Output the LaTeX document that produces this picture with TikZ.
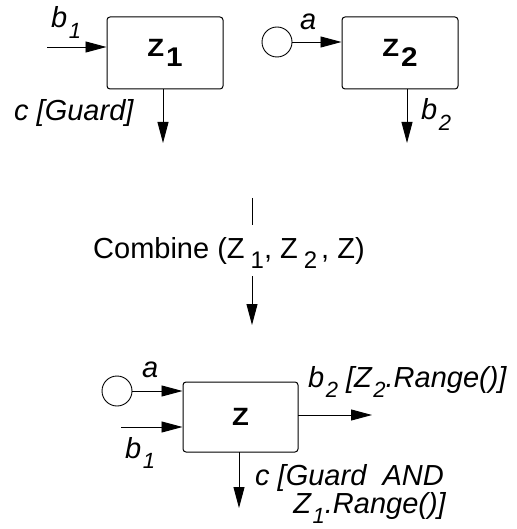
\documentclass[tikz,border=0pt]{standalone}
\usepackage{fontspec}
\setmainfont{Liberation Sans}
\newfontfamily\boxfont{Liberation Sans}[FakeStretch=1.1]
\usetikzlibrary{arrows.meta}
\newcommand{\lsub}[1]{\kern1.5pt\raisebox{-0.35em}{\fontsize{22}{22}\selectfont #1}}
\newcommand{\csub}[1]{\kern6pt\raisebox{-0.36em}{\fontsize{24}{24}\selectfont #1}}
\newcommand{\bsub}[1]{\kern2pt\raisebox{-0.4em}{\fontsize{27}{27}\selectfont #1}}
\begin{document}
\begin{tikzpicture}[x=1pt,y=-1pt,
  box/.style={draw, line width=1pt, rounded corners=3pt, minimum width=116pt, minimum height=72pt, inner sep=0pt, font=\boxfont\fontsize{25}{28}\selectfont\bfseries},
  arr/.style={line width=0.9pt, -{Triangle[length=21pt,width=11pt]}},
  lbl/.style={inner sep=0pt, font=\fontsize{29}{32}\selectfont\itshape},
  txt/.style={inner sep=0pt, font=\fontsize{29}{32}\selectfont},
  src/.style={draw, circle, minimum size=30pt, inner sep=0pt, line width=0.9pt}]
\useasboundingbox (0,0) rectangle (516,529);

% ---------- top left: Z1 ----------
\node[box] (Z1) at (165,53) {Z\bsub{1}};
\coordinate (b1in) at (47,47);
\draw[arr] (b1in) -- (b1in -| Z1.west);
\node[lbl, anchor=base west] (lb1) at (51,28) {b\lsub{1}};
\coordinate (c1s) at (163,89);
\coordinate (c1e) at (163,143);
\draw[arr] (c1s) -- (c1e);
\node[lbl, anchor=base west] (lc1) at (14,121) {c [Guard]};

% ---------- top right: Z2 ----------
\node[box] (Z2) at (400,53) {Z\bsub{2}};
\node[src] (s2) at (277,42) {};
\draw[arr] (s2.east) -- (s2.east -| Z2.west);
\node[lbl, anchor=base west] (la2) at (300,30) {a};
\coordinate (b2s) at (407,89);
\coordinate (b2e) at (407,143);
\draw[arr] (b2s) -- (b2e);
\node[lbl, anchor=base west] (lb2) at (421,120) {b\lsub{2}};

% ---------- middle: Combine ----------
\coordinate (m1) at (252,198);
\coordinate (m2) at (252,225);
\coordinate (m3) at (252,276);
\coordinate (m4) at (252,325);
\draw[line width=0.9pt] (m1) -- (m2);
\node[txt, anchor=base west] (comb) at (93,258) {Combine (Z\csub{1}, Z\csub{2}\kern4pt, Z)};
\draw[arr] (m3) -- (m4);

% ---------- bottom: Z ----------
\node[box, minimum width=115pt, minimum height=70pt] (Z) at (240.5,417) {Z};
\node[src] (s) at (117,391) {};
\draw[arr] (s.east) -- (s.east -| Z.west);
\node[lbl, anchor=base west] (la) at (142,377) {a};
\coordinate (b1b) at (121,427);
\draw[arr] (b1b) -- (b1b -| Z.west);
\node[lbl, anchor=base west] (lb1b) at (125,458) {b\lsub{1}};
\coordinate (b2b) at (298,415);
\coordinate (b2be) at (372,415);
\draw[arr] (b2b) -- (b2be);
\node[lbl, anchor=base west] (lb2b) at (308,387) {b\lsub{2} [Z\lsub{2}.Range()]};
\coordinate (cbs) at (239,452);
\coordinate (cbe) at (239,508);
\draw[arr] (cbs) -- (cbe);
\node[lbl, anchor=base west] (lcb1) at (255,485) {c [Guard\ \ AND};
\node[lbl, anchor=base east] (lcb2) at (446,513) {Z\lsub{1}.Range()]};
\end{tikzpicture}
\end{document}
